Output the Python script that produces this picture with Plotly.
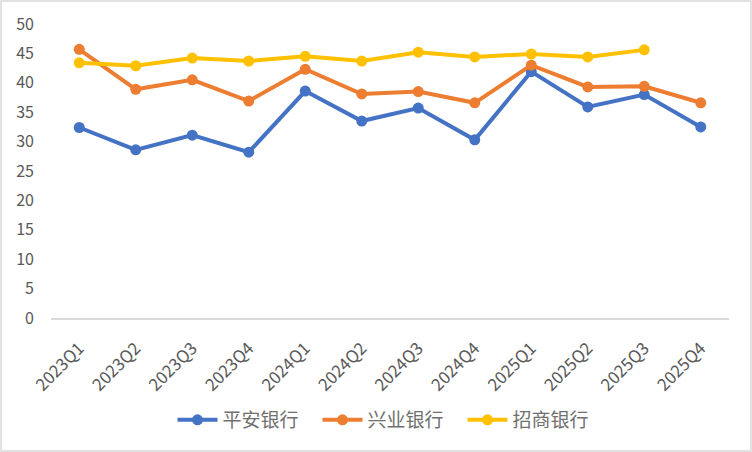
import plotly.graph_objects as go

quarters = ["2023Q1", "2023Q2", "2023Q3", "2023Q4", "2024Q1", "2024Q2",
            "2024Q3", "2024Q4", "2025Q1", "2025Q2", "2025Q3", "2025Q4"]
pingan = [32.4, 28.6, 31.1, 28.2, 38.6, 33.5, 35.7, 30.3, 41.9, 35.9, 38.0, 32.5]
xingye = [45.7, 38.9, 40.5, 36.9, 42.3, 38.1, 38.5, 36.6, 43.0, 39.3, 39.4, 36.6]
zhaoshang = [43.4, 42.9, 44.2, 43.7, 44.5, 43.7, 45.2, 44.4, 44.9, 44.4, 45.6, None]

names = ["平安银行", "兴业银行", "招商银行"]
colors = ["#4472C4", "#ED7D31", "#FFC000"]
series = [pingan, xingye, zhaoshang]

fig = go.Figure()
for name, col, vals in zip(names, colors, series):
    fig.add_trace(go.Scatter(
        x=quarters, y=vals, name=name, mode="lines+markers",
        line=dict(color=col, width=4),
        marker=dict(color=col, size=11),
        connectgaps=False,
    ))

W, H = 752, 452
ml, mr, mt, mb = 51, 23, 24, 134
pw, ph = W - ml - mr, H - mt - mb

fig.update_layout(
    width=W, height=H,
    margin=dict(l=ml, r=mr, t=mt, b=mb, pad=0),
    paper_bgcolor="white", plot_bgcolor="white",
    font=dict(family="Noto Sans CJK SC, sans-serif", color="#595959", size=16),
    showlegend=True,
    legend=dict(orientation="h", x=0.5, xanchor="center",
                y=(mt + ph - 420) / ph, yanchor="middle",
                font=dict(size=19, color="#707070"),
                itemwidth=40, entrywidth=90, entrywidthmode="pixels",
                tracegroupgap=0),
    xaxis=dict(type="category", range=[-0.5, 11.5], showgrid=False,
               showline=True, linecolor="#D9D9D9", linewidth=1.5,
               ticks="", tickangle=-45, ticklabelstandoff=12,
               tickfont=dict(size=17, color="#595959"),
               zeroline=False),
    yaxis=dict(range=[0, 50], dtick=5, showgrid=False, showline=False,
               zeroline=False, ticks="", ticklabelstandoff=16,
               tickfont=dict(size=16, color="#595959")),
    shapes=[dict(type="rect", xref="paper", yref="paper",
                 x0=(1 - ml) / pw, x1=(W - 1 - ml) / pw,
                 y0=-(H - 1 - mt - ph) / ph, y1=1 + (mt - 1) / ph,
                 line=dict(color="#D9D9D9", width=1.5), layer="below")],
)

fig.write_html("out.html")
